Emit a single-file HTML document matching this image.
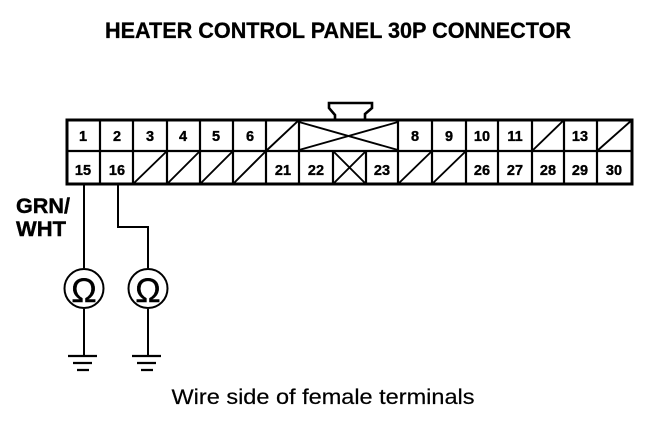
<!DOCTYPE html>
<html><head><meta charset="utf-8"><style>
html,body{margin:0;padding:0;background:#fff}
svg{display:block}
text{font-family:"Liberation Sans",sans-serif;fill:#000}
.n{font-size:14.5px;font-weight:bold;text-anchor:middle;stroke:#000;stroke-width:.35px}
</style></head><body>
<svg width="672" height="428" viewBox="0 0 672 428" xmlns="http://www.w3.org/2000/svg">
<text x="338" y="38" font-size="22" font-weight="bold" text-anchor="middle" textLength="466" lengthAdjust="spacingAndGlyphs" stroke="#000" stroke-width=".3">HEATER CONTROL PANEL 30P CONNECTOR</text>
<g fill="none" stroke="#000">
<path d="M335 119V115L329 108V103H372V108L365 114V119" stroke-width="2.6" fill="#fff"/>
<rect x="67" y="120" width="565" height="64" stroke-width="3"/>
<path d="M67 151H632" stroke-width="2.2"/>
<path d="M100 120V184M133 120V184M167 120V184M200 120V184M233 120V184M266 120V184M299 120V184M398 120V184M432 120V184M466 120V184M498 120V184M532 120V184M564 120V184M597 120V184M333 151V184M366 151V184" stroke-width="2.2"/>
<path d="M266 151L299 120M532 151L564 120M597 151L632 120M133 184L167 151M167 184L200 151M200 184L233 151M233 184L266 151M398 184L432 151M432 184L466 151M333 151L366 184M333 184L366 151" stroke-width="1.9"/>
<path d="M299 122L398 150M299 150L398 122" stroke-width="1.9"/>
<path d="M84 184V268M84 309V355M118 184V227H148V268M148 309V355" stroke-width="2"/>
<circle cx="84" cy="288.500" r="19.500" stroke-width="2"/>
<circle cx="148" cy="288.500" r="19.500" stroke-width="2"/>
<path d="M68 356H97M73 363H92M77 370H89M132 356H161M137 363H156M141 370H153" stroke-width="2.2"/>
</g>
<g>
<text class="n" x="83" y="141">1</text><text class="n" x="117" y="141">2</text><text class="n" x="150" y="141">3</text><text class="n" x="183" y="141">4</text><text class="n" x="216" y="141">5</text><text class="n" x="250" y="141">6</text>
<text class="n" x="415" y="141">8</text><text class="n" x="449" y="141">9</text><text class="n" x="482" y="141">10</text><text class="n" x="515" y="141">11</text><text class="n" x="580" y="141">13</text>
<text class="n" x="83" y="175">15</text><text class="n" x="117" y="175">16</text><text class="n" x="283" y="175">21</text><text class="n" x="316" y="175">22</text><text class="n" x="382" y="175">23</text>
<text class="n" x="482" y="175">26</text><text class="n" x="515" y="175">27</text><text class="n" x="548" y="175">28</text><text class="n" x="580" y="175">29</text><text class="n" x="614" y="175">30</text>
</g>
<text x="16" y="213" font-size="21" font-weight="bold" textLength="54" lengthAdjust="spacingAndGlyphs" stroke="#000" stroke-width=".4">GRN/</text>
<text x="16" y="236" font-size="21" font-weight="bold" textLength="50" lengthAdjust="spacingAndGlyphs" stroke="#000" stroke-width=".4">WHT</text>
<text x="84" y="302" font-size="34" text-anchor="middle" stroke="#000" stroke-width=".4">Ω</text>
<text x="148" y="302" font-size="34" text-anchor="middle" stroke="#000" stroke-width=".4">Ω</text>
<text x="323" y="404" font-size="21" text-anchor="middle" textLength="303" lengthAdjust="spacingAndGlyphs" stroke="#000" stroke-width=".2">Wire side of female terminals</text>
</svg>
</body></html>
